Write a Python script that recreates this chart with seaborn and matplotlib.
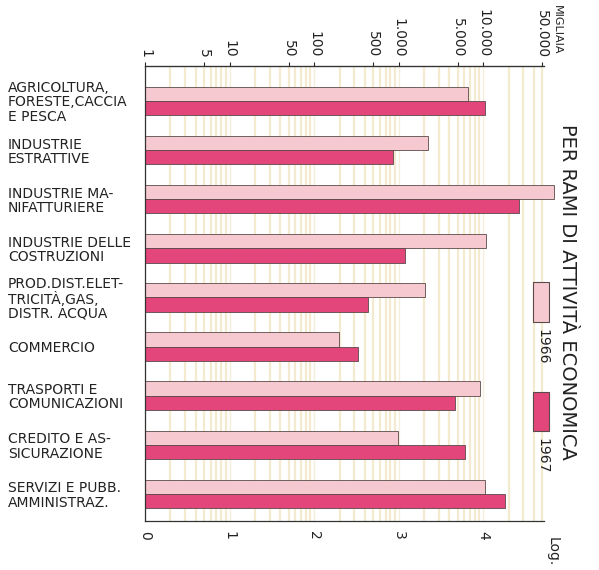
import matplotlib
matplotlib.use("Agg")
import matplotlib.pyplot as plt
import seaborn as sns
import pandas as pd
import numpy as np
from matplotlib.patches import Rectangle

categories = [
    "AGRICOLTURA,\nFORESTE,CACCIA\nE PESCA",
    "INDUSTRIE\nESTRATTIVE",
    "INDUSTRIE MA-\nNIFATTURIERE",
    "INDUSTRIE DELLE\nCOSTRUZIONI",
    "PROD.DIST.ELET-\nTRICITÀ,GAS,\nDISTR. ACQUA",
    "COMMERCIO",
    "TRASPORTI E\nCOMUNICAZIONI",
    "CREDITO E AS-\nSICURAZIONE",
    "SERVIZI E PUBB.\nAMMINISTRAZ.",
]
values_1966 = [6600, 2250, 69000, 10800, 2050, 197, 9100, 980, 10500]
values_1967 = [10500, 850, 26500, 1180, 435, 330, 4700, 6100, 18000]
years = ["1966", "1967"]
top_ticks = [1, 5, 10, 50, 100, 500, 1000, 5000, 10000, 50000]
top_labels = ["1", "5", "10", "50", "100", "500", "1.000", "5.000", "10.000", "50.000"]
bottom_ticks = [1, 10, 100, 1000, 10000]
bottom_labels = ["0", "1", "2", "3", "4"]

colors = {"1966": "#f6c8cf", "1967": "#e2467b"}

df = pd.DataFrame({
    "ramo": categories * 2,
    "anno": [years[0]] * len(categories) + [years[1]] * len(categories),
    "valore": values_1966 + values_1967,
})

sns.set_style("white")
plt.rcParams["font.family"] = ["DejaVu Sans"]

W, H = 599, 570
XMAX = 10 ** 4.72
fig = plt.figure(figsize=(W / 100, H / 100), dpi=100)
ax = fig.add_axes([145 / W, 1 - 521 / H, (544 - 145) / W, (521 - 66) / H])

ax.set_xscale("log")
# pale vertical stripes
for d in range(0, 5):
    for m in range(2, 10):
        v = m * 10 ** d
        if v < XMAX:
            ax.axvline(v, color="#f3ead0", lw=1.6, zorder=0)
    ax.axvline(10 ** d, color="#f5eedb", lw=1.0, zorder=0)

sns.barplot(data=df, y="ramo", x="valore", hue="anno", hue_order=years,
            order=categories, palette=colors, orient="h", width=0.58,
            gap=0, dodge=True, edgecolor="#5a4a4a", linewidth=0.6,
            saturation=1, ax=ax, legend=False, zorder=2)

clip_rect = Rectangle((0, 0), 1.1, 1, transform=ax.transAxes,
                      facecolor="none", edgecolor="none")
for p in ax.patches:
    p.set_clip_path(clip_rect)

ax.set_xscale("log")
ax.set_xlim(1, XMAX)
ax.set_ylim(8.55, -0.71)
ax.set_xlabel("")
ax.set_ylabel("")

ax.spines["right"].set_visible(False)
for s in ["left", "top", "bottom"]:
    ax.spines[s].set_color("#333333")
    ax.spines[s].set_linewidth(0.9)

# bottom ticks (log exponent)
ax.xaxis.set_minor_locator(matplotlib.ticker.NullLocator())
ax.set_xticks(bottom_ticks)
ax.set_xticklabels(bottom_labels, rotation=-90, fontsize=10, color="#222222")
ax.tick_params(axis="x", length=3, pad=4)

# top ticks (values in thousands)
sec = ax.secondary_xaxis("top")
sec.set_xticks(top_ticks)
sec.set_xticklabels(top_labels, rotation=-90, fontsize=10, color="#222222")
sec.xaxis.set_minor_locator(matplotlib.ticker.NullLocator())
sec.tick_params(axis="x", length=3, pad=3)
sec.spines["top"].set_color("#333333")

# category labels, left aligned
ax.tick_params(axis="y", length=0, pad=137 * 0.72)
for lab in ax.get_yticklabels():
    lab.set_ha("left")
    lab.set_fontsize(10)
    lab.set_linespacing(1.02)
    lab.set_color("#222222")

# texts
fig.text(557 / W, 1 - 30 / H, "MIGLIAIA", rotation=-90, fontsize=8,
         ha="center", va="center", color="#222222")
fig.text(553 / W, 1 - 552 / H, "Log.", rotation=-90, fontsize=10,
         ha="center", va="center", color="#222222")
fig.text(567 / W, 1 - 292 / H, "PER RAMI DI ATTIVITÀ ECONOMICA", rotation=-90,
         fontsize=14, ha="center", va="center", color="#222222")

# legend
fig.patches.append(Rectangle((533 / W, 1 - 322 / H), 16 / W, 40 / H,
                             transform=fig.transFigure, facecolor=colors["1966"],
                             edgecolor="#5a4a4a", lw=0.8))
fig.patches.append(Rectangle((533 / W, 1 - 431 / H), 16 / W, 39 / H,
                             transform=fig.transFigure, facecolor=colors["1967"],
                             edgecolor="#5a4a4a", lw=0.8))
fig.text(542 / W, 1 - 347 / H, "1966", rotation=-90, fontsize=10,
         ha="center", va="center", color="#222222")
fig.text(542 / W, 1 - 456 / H, "1967", rotation=-90, fontsize=10,
         ha="center", va="center", color="#222222")

fig.savefig("out.png", dpi=100, facecolor="white")
